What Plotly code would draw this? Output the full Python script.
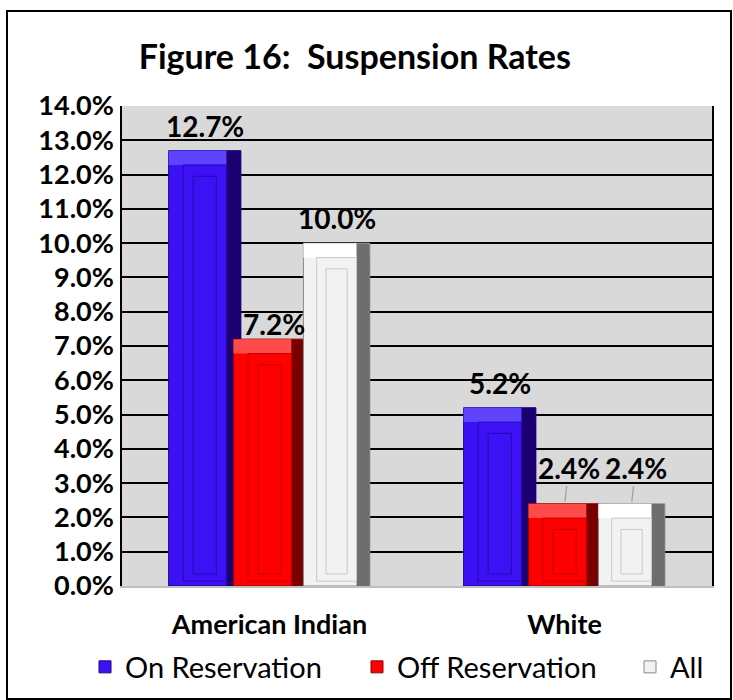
import plotly.graph_objects as go

# ---------------- data ----------------
categories = ["American Indian", "White"]
series_names = ["On Reservation", "Off Reservation", "All"]
on_reservation = [12.7, 5.2]
off_reservation = [7.2, 2.4]
all_students = [10.0, 2.4]
y_ticks = [0, 1, 2, 3, 4, 5, 6, 7, 8, 9, 10, 11, 12, 13, 14]

# ---------------- layout constants ----------------
W, H = 733, 700
ML, MR, MT, MB = 122, 21, 106, 114
FONT = "Lato"

styles = [
    dict(off=-0.342, w=0.245, main="#3c12f4", dark="#1a0070", light="#5f44ff", line="#2608b4", edge="#20058a", leg_px=95),
    dict(off=-0.122, w=0.245, main="#ff0000", dark="#7a0000", light="#ff4a4a", line="#c40000", edge="#900000", leg_px=367),
    dict(off=0.115, w=0.225, main="#f2f2f2", dark="#6e6e6e", light="#ffffff", line="#c8c8c8", edge="#8a8a8a", leg_px=640),
]
series_values = [on_reservation, off_reservation, all_students]
legend_ids = ["legend", "legend2", "legend3"]

pw = W - ML - MR
ph = H - MT - MB
def px_to_paper_x(px):
    return (px - ML) / pw
def px_to_paper_y(py):
    return (H - MB - py) / ph

x_idx = list(range(len(categories)))
BEV_TOP = 0.42
BEV_BOT = 0.14

fig = go.Figure()
for name, vals, st, lid in zip(series_names, series_values, styles, legend_ids):
    o, w = st["off"], st["w"]
    fig.add_trace(go.Bar(x=x_idx, y=vals, offset=o, width=w, name=name,
                         legendgroup=name, legend=lid,
                         marker=dict(color=st["main"], line=dict(color=st["edge"], width=1)),
                         hoverinfo="skip"))
    fig.add_trace(go.Bar(x=x_idx, y=[BEV_TOP] * len(vals), base=[v - BEV_TOP for v in vals],
                         offset=o, width=w, marker=dict(color=st["light"], line=dict(width=0)),
                         showlegend=False, legendgroup=name, hoverinfo="skip"))
    fig.add_trace(go.Bar(x=x_idx, y=vals, offset=o + 0.8 * w, width=0.2 * w,
                         marker=dict(color=st["dark"], line=dict(width=0)),
                         showlegend=False, legendgroup=name, hoverinfo="skip"))
    fig.add_trace(go.Bar(x=x_idx, y=[v - BEV_TOP - BEV_BOT for v in vals], base=[BEV_BOT] * len(vals),
                         offset=o + 0.2 * w, width=0.6 * w,
                         marker=dict(color=st["main"], line=dict(color=st["line"], width=1)),
                         showlegend=False, legendgroup=name, hoverinfo="skip"))
    fig.add_trace(go.Bar(x=x_idx, y=[v - 0.75 - 0.35 for v in vals], base=[0.35] * len(vals),
                         offset=o + 0.34 * w, width=0.32 * w,
                         marker=dict(color="rgba(0,0,0,0)", line=dict(color=st["line"], width=1)),
                         showlegend=False, legendgroup=name, hoverinfo="skip"))

LABEL_FONT = dict(family=FONT, size=28, color="black")
annotations = []
for si, (vals, st) in enumerate(zip(series_values, styles)):
    for ci, v in enumerate(vals):
        xc = ci + st["off"] + st["w"] / 2
        txt = f"<b>{v:.1f}%</b>"
        if ci == 1 and si in (1, 2):
            annotations.append(dict(x=xc, y=v, text=txt, showarrow=True, arrowhead=0,
                                    arrowcolor="#a0a0a0", arrowwidth=1.3, ax=4, ay=-36,
                                    standoff=2, font=LABEL_FONT, xref="x", yref="y"))
        else:
            low = (ci == 0 and si == 1)
            annotations.append(dict(x=xc, y=v, text=txt, showarrow=False,
                                    yshift=15 if low else 25, xshift=4 if low else 0,
                                    font=LABEL_FONT, xref="x", yref="y"))

shapes = [
    dict(type="rect", xref="paper", yref="paper",
         x0=px_to_paper_x(7), x1=px_to_paper_x(731),
         y0=px_to_paper_y(699), y1=px_to_paper_y(11),
         line=dict(color="black", width=2), fillcolor="rgba(0,0,0,0)", layer="below"),
]

legend_common = dict(orientation="h", yref="paper", y=px_to_paper_y(667),
                     xanchor="left", yanchor="middle",
                     font=dict(family=FONT, size=29, color="black"),
                     bgcolor="rgba(0,0,0,0)", itemclick=False, itemdoubleclick=False)
legend_layouts = {}
for lid, st in zip(legend_ids, styles):
    legend_layouts[lid] = dict(legend_common, x=px_to_paper_x(st["leg_px"] - 10))

fig.update_layout(
    width=W, height=H,
    margin=dict(l=ML, r=MR, t=MT, b=MB, autoexpand=False),
    paper_bgcolor="white",
    plot_bgcolor="#d9d9d9",
    barmode="overlay",
    font=dict(family=FONT, color="black"),
    title=dict(text="<b>Figure 16:\u00a0 Suspension Rates</b>", x=0.484, xref="container",
               y=1 - 57 / H, yref="container", xanchor="center", yanchor="middle",
               font=dict(family=FONT, size=34, color="black")),
    showlegend=True,
    annotations=annotations,
    shapes=shapes,
    xaxis=dict(range=[-0.5, 1.5], tickvals=x_idx, ticktext=[f"<b>{c}</b>" for c in categories],
               tickfont=dict(family=FONT, size=27, color="black"),
               ticks="outside", ticklen=14, tickcolor="rgba(0,0,0,0)", automargin=False,
               showgrid=False, zeroline=False, showline=True, linecolor="#bfbfbf", linewidth=2,
               fixedrange=True),
    yaxis=dict(range=[0, 14], tickvals=y_ticks,
               ticktext=[f"<b>{t:.1f}%</b>" for t in y_ticks],
               tickfont=dict(family=FONT, size=27, color="black"),
               ticks="outside", ticklen=1, tickcolor="rgba(0,0,0,0)", automargin=False,
               showgrid=True, gridcolor="black", gridwidth=2,
               zeroline=False, showline=True, linecolor="black", linewidth=1.5, mirror=True,
               fixedrange=True),
    **legend_layouts,
)

fig.write_html("out.html", config={"displayModeBar": False},
               post_script="document.body.style.margin='0px';document.body.style.overflow='hidden';")
